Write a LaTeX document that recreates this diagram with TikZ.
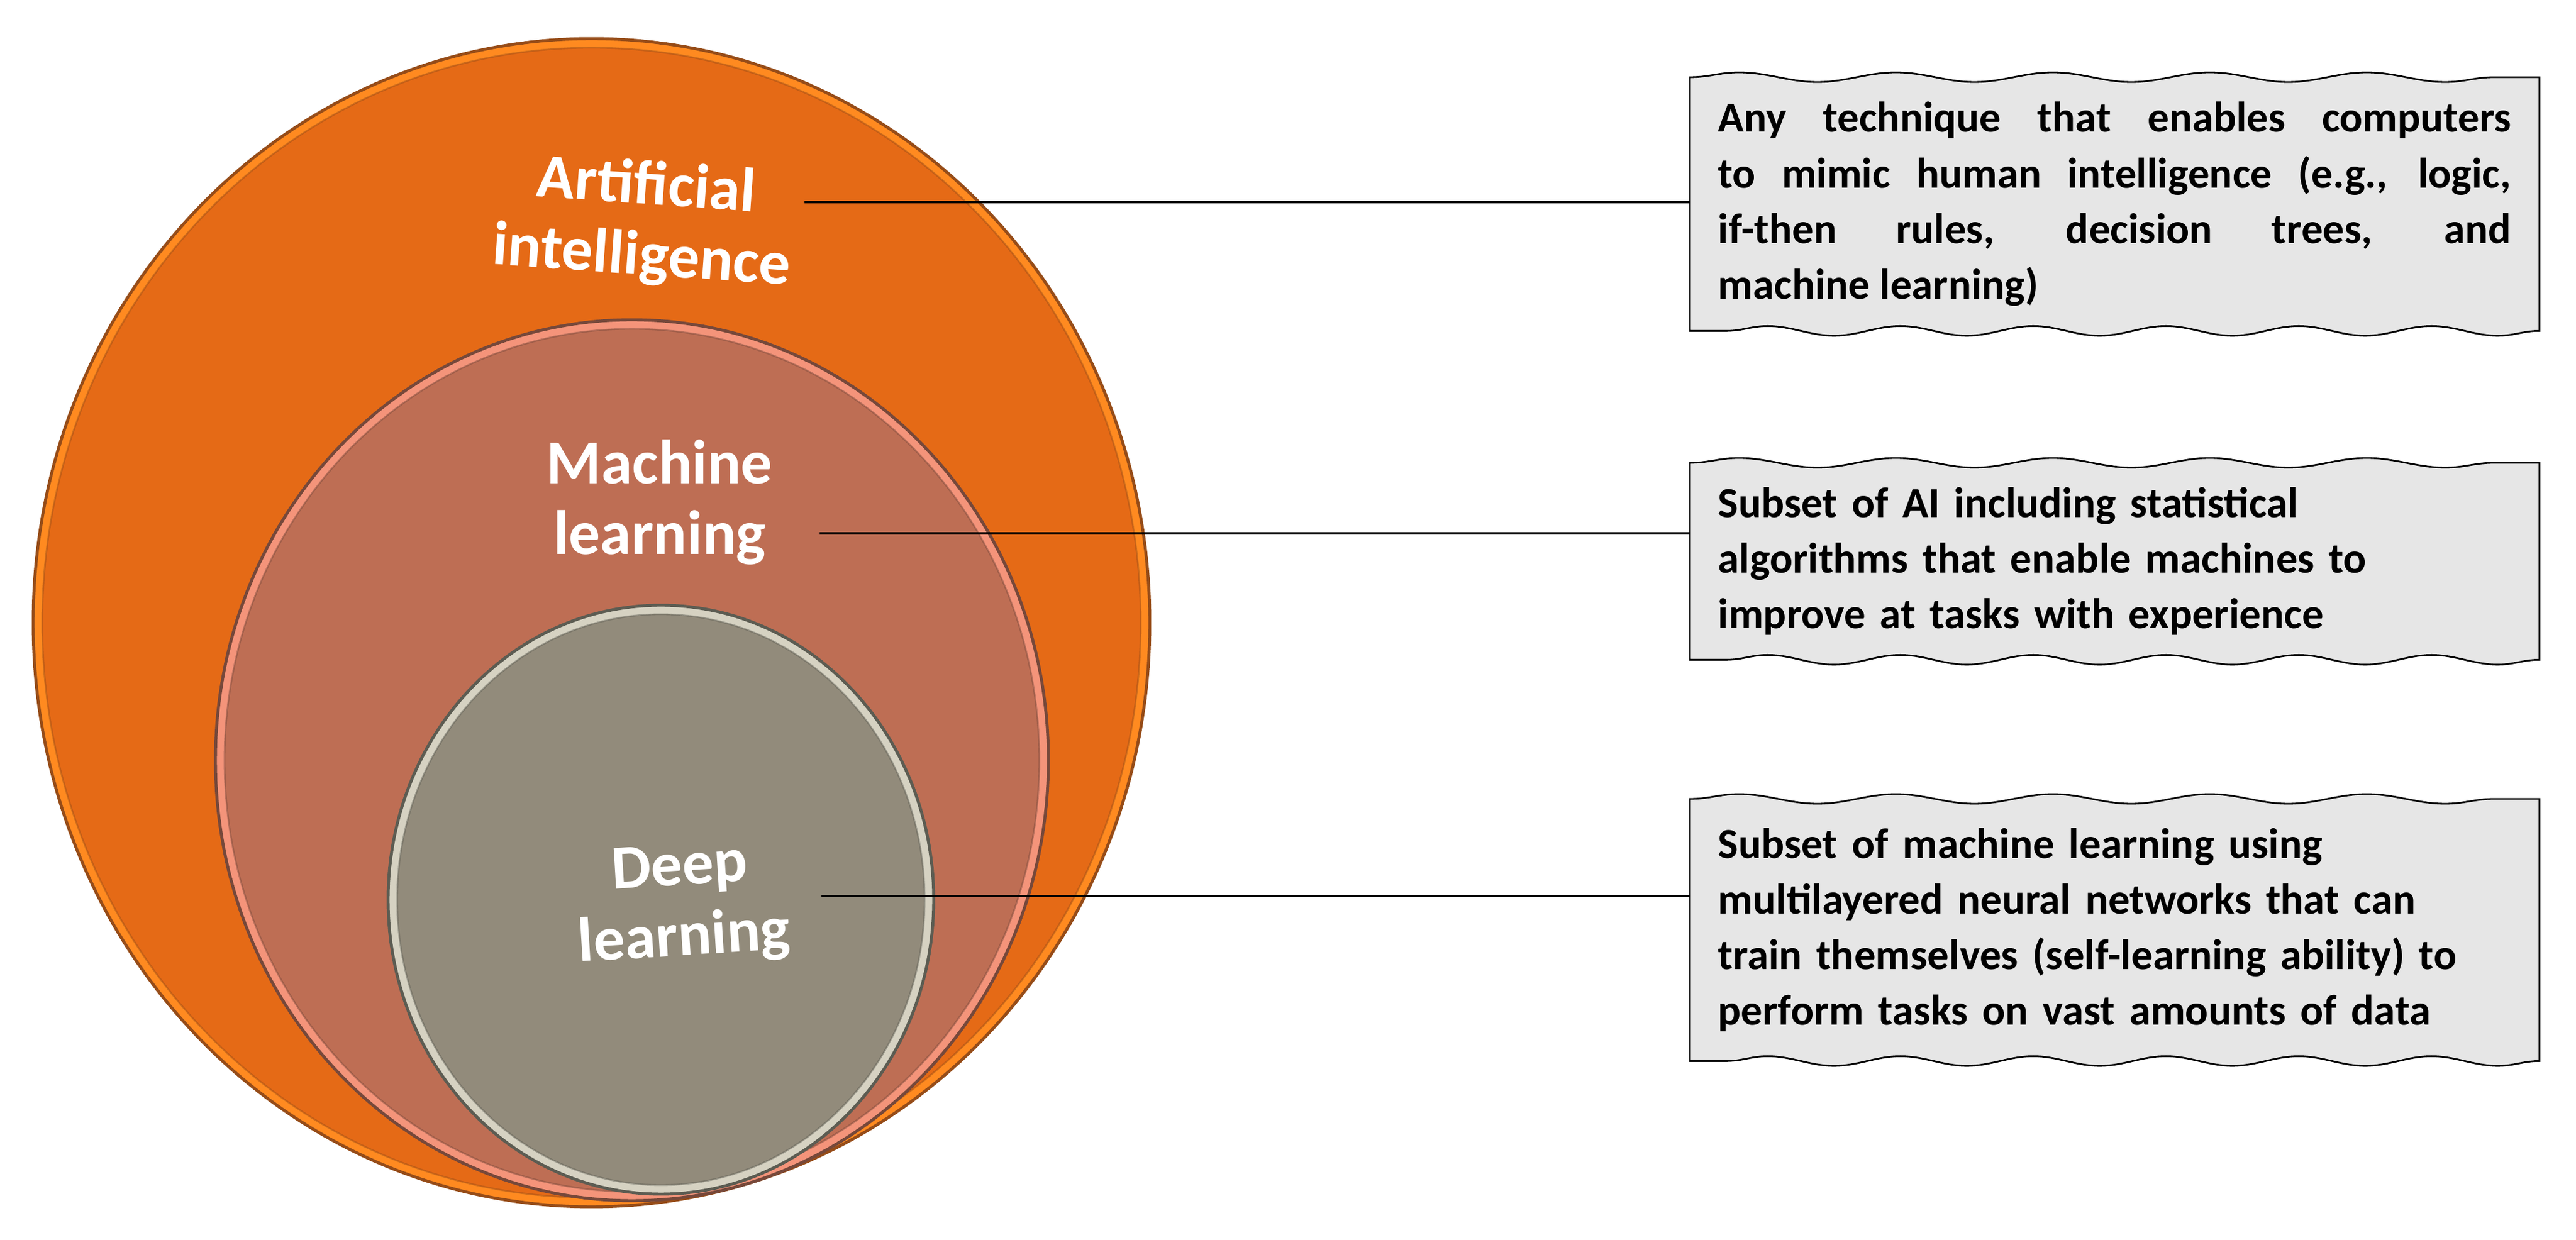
\documentclass[tikz,border=0pt]{standalone}
\usepackage{fontspec}
\setmainfont{Carlito}
\usepackage{tikz}
\usetikzlibrary{calc,decorations.pathmorphing,backgrounds}
\definecolor{aiorange}{RGB}{229,106,22}
\definecolor{aidark}{RGB}{150,76,24}
\definecolor{ailight}{RGB}{255,138,32}
\definecolor{mlfill}{RGB}{190,110,84}
\definecolor{mldark}{RGB}{118,72,58}
\definecolor{mllight}{RGB}{244,148,122}
\definecolor{dlfill}{RGB}{146,139,123}
\definecolor{dldark}{RGB}{92,92,82}
\definecolor{dllight}{RGB}{214,210,194}
\definecolor{boxgray}{RGB}{230,230,230}
\def\bevelellipse[#1/#2/#3](#4)(#5:#6){%
	\draw[fill=#2, draw=#1, line width=1.4pt] (#4) ellipse ({#5} and {#6});
	\draw[fill=#3, draw=#1, draw opacity=0.45, line width=0.8pt] (#4) ellipse ({#5-0.15} and {#6-0.15});}
\def\tornbox(#1){%
	\begin{pgfonlayer}{background}
	\draw[fill=boxgray, line width=0.8pt] (#1.north west) decorate[decoration={snake, segment length=2.6cm, amplitude=0.8mm}] {-- (#1.north east)} -- (#1.south east) decorate[decoration={snake, segment length=2.2cm, amplitude=0.8mm}] {-- (#1.south west)} -- cycle;
	\end{pgfonlayer}}
\hyphenpenalty=10000
\exhyphenpenalty=10000

\begin{document}
\begin{tikzpicture}[
		circlelabel/.style={text=white, font=\bfseries\fontsize{29.5}{33.3}\selectfont, align=center},
		infobox/.style={text width=13.14cm, inner xsep=0.46cm, inner ysep=0.15cm, anchor=north west, font=\bfseries\fontsize{20.2}{26.2}\selectfont},
		linkline/.style={line width=1.2pt, color=black}]
		%%%%% START %%%%%
		
		\useasboundingbox (0, 0) rectangle (42.68, 20.55);
		
		\bevelellipse[aidark/ailight/aiorange](9.80, 10.23)(9.25:9.68);
		\bevelellipse[mldark/mllight/mlfill](10.47, 7.95)(6.90:7.30);
		\bevelellipse[dldark/dllight/dlfill](10.95, 5.64)(4.52:4.88);
		
		\node[circlelabel, rotate=-4] (ailabel) at (10.67, 16.86) {Artificial\\intelligence};
		\node[circlelabel] (mllabel) at (10.93, 12.23) {Machine\\learning};
		\node[circlelabel, rotate=3.5] (dllabel) at (11.30, 5.55) {Deep\\learning};
		
		\node[infobox, align=justify, minimum height=4.19cm] (aibox) at (28.00, 19.27) {Any technique that enables computers\linebreak to mimic human intelligence (e.g., logic,\linebreak if-then rules, decision trees, and\linebreak machine learning)};
		\node[infobox, align=left, minimum height=3.25cm] (mlbox) at (28.00, 12.88) {Subset of AI including statistical\\algorithms that enable machines to\\improve at tasks with experience};
		\node[infobox, align=left, minimum height=4.33cm] (dlbox) at (28.00, 7.31) {Subset of machine learning using\\multilayered neural networks that can\\train themselves (self-learning ability) to\\perform tasks on vast amounts of data};
		
		\tornbox(aibox)
		\tornbox(mlbox)
		\tornbox(dlbox)
		
		\coordinate (aistart) at (13.33, 17.20);
		\coordinate (mlstart) at (13.58, 11.71);
		\coordinate (dlstart) at (13.61, 5.70);
		\draw[linkline] (aistart) -- (aistart -| aibox.west);
		\draw[linkline] (mlstart) -- (mlstart -| mlbox.west);
		\draw[linkline] (dlstart) -- (dlstart -| dlbox.west);
		
		%%%%% END %%%%%
	\end{tikzpicture}
\end{document}
